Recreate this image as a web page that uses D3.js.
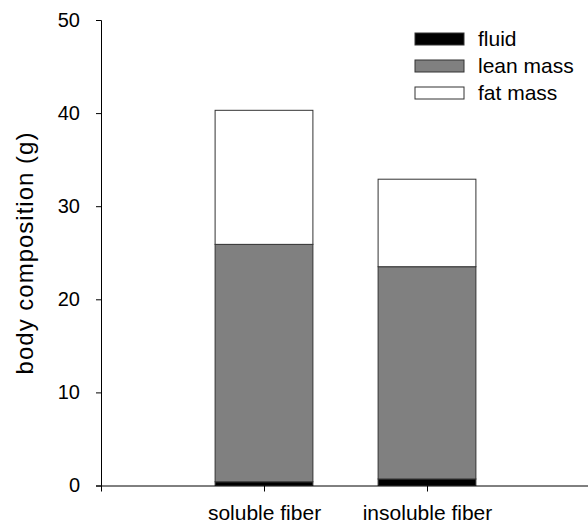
<!DOCTYPE html>
<html>
<head>
<meta charset="utf-8">
<script src="https://cdn.jsdelivr.net/npm/d3@7"></script>
<style>
  body { margin: 0; background: #fff; }
  svg { font-family: "Liberation Sans", Arial, sans-serif; }
</style>
</head>
<body>
<div id="chart"></div>
<script>
// data
var categories = ["soluble fiber", "insoluble fiber"];
var fluid = [0.4, 0.7];
var leanMass = [25.5, 22.8];
var fatMass = [14.4, 9.4];
var seriesNames = ["fluid", "lean mass", "fat mass"];
var seriesColors = ["#000000", "#808080", "#ffffff"];
var yTicks = [0, 10, 20, 30, 40, 50];

var width = 588, height = 531;
var margin = {top: 20, right: 0, bottom: 45, left: 101};

var svg = d3.select("#chart").append("svg")
    .attr("width", width)
    .attr("height", height);

var x = d3.scaleLinear().domain([0, 3]).range([margin.left, width - margin.right + 2]);
var y = d3.scaleLinear().domain([0, 50]).range([height - margin.bottom - 0.5, margin.top]);

var rows = categories.map(function(c, i) {
    return {cat: c, idx: i + 1, "fluid": fluid[i], "lean mass": leanMass[i], "fat mass": fatMass[i]};
});
var stacked = d3.stack().keys(seriesNames)(rows);

var barW = x(0.6) - x(0);

svg.selectAll("g.layer")
    .data(stacked)
    .enter().append("g")
    .attr("class", "layer")
    .attr("fill", function(d, i) { return seriesColors[i]; })
    .selectAll("rect")
    .data(function(d) { return d; })
    .enter().append("rect")
    .attr("x", function(d) { return x(d.data.idx) - barW / 2; })
    .attr("y", function(d) { return y(d[1]); })
    .attr("width", barW)
    .attr("height", function(d) { return y(d[0]) - y(d[1]); })
    .attr("stroke", "#333")
    .attr("stroke-width", 1);

// y axis
var yAxis = svg.append("g")
    .attr("transform", "translate(" + margin.left + ",0)")
    .call(d3.axisLeft(y).tickValues(yTicks).tickSize(5).tickPadding(16));
yAxis.selectAll("text").style("font-size", "20px").attr("fill", "#000");

// x axis
var xAxis = svg.append("g")
    .attr("transform", "translate(0," + y(0) + ")")
    .call(d3.axisBottom(x).tickValues([1, 2]).tickSize(6).tickPadding(14)
        .tickFormat(function(d) { return categories[d - 1]; }));
xAxis.selectAll("text").style("font-size", "21px").attr("fill", "#000");
svg.selectAll(".domain").attr("stroke", "#000");

svg.append("text")
    .attr("transform", "translate(33,253) rotate(-90)")
    .attr("text-anchor", "middle")
    .style("font-size", "24px")
    .style("letter-spacing", "1px")
    .text("body composition (g)");

// legend
var legend = svg.selectAll("g.legend")
    .data(seriesNames)
    .enter().append("g")
    .attr("class", "legend")
    .attr("transform", function(d, i) { return "translate(415," + (33 + i * 27) + ")"; });
legend.append("rect")
    .attr("width", 49)
    .attr("height", 12)
    .attr("fill", function(d, i) { return seriesColors[i]; })
    .attr("stroke", "#333");
legend.append("text")
    .attr("x", 63)
    .attr("y", 6)
    .attr("dy", "0.35em")
    .style("font-size", "21px")
    .text(function(d) { return d; });
</script>
</body>
</html>
